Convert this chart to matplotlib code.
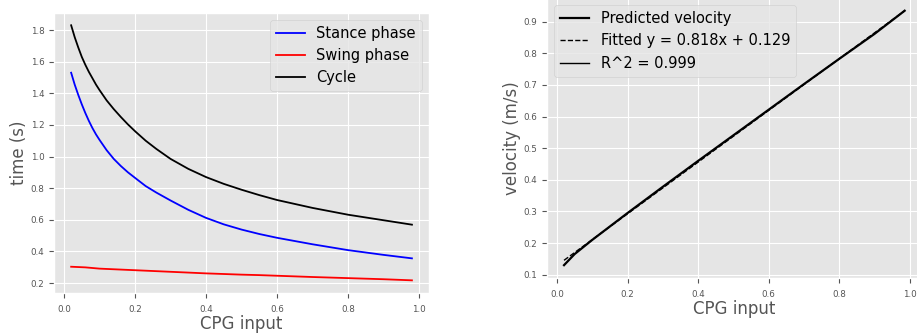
import matplotlib
matplotlib.use("Agg")
import matplotlib.pyplot as plt

plt.style.use("ggplot")
plt.rcParams['font.family'] = ['DejaVu Sans']

# ---- data: left panel (phase durations) ----
cpg_x = [0.02, 0.03, 0.04, 0.05, 0.06, 0.07, 0.08, 0.09, 0.10, 0.12, 0.14, 0.16,
         0.18, 0.20, 0.23, 0.26, 0.30, 0.35, 0.40, 0.45, 0.50, 0.55, 0.60, 0.70,
         0.80, 0.90, 0.98]
stance = [1.53, 1.455, 1.39, 1.33, 1.275, 1.225, 1.18, 1.14, 1.105, 1.04, 0.985, 0.94,
          0.90, 0.865, 0.813, 0.772, 0.722, 0.663, 0.612, 0.571, 0.538, 0.51, 0.486, 0.445,
          0.408, 0.378, 0.356]
swing = [0.303, 0.302, 0.301, 0.300, 0.299, 0.297, 0.295, 0.293, 0.291, 0.289, 0.287, 0.285,
         0.283, 0.281, 0.278, 0.275, 0.271, 0.266, 0.261, 0.257, 0.253, 0.250, 0.246, 0.238,
         0.231, 0.224, 0.217]
cycle = [1.83, 1.755, 1.69, 1.63, 1.58, 1.535, 1.495, 1.455, 1.42, 1.355, 1.30, 1.25,
         1.203, 1.16, 1.10, 1.048, 0.985, 0.922, 0.87, 0.827, 0.79, 0.756, 0.725, 0.675,
         0.632, 0.597, 0.569]

# ---- data: right panel (velocity) ----
vel_x = [0.02, 0.05, 0.1, 0.2, 0.3, 0.4, 0.5, 0.6, 0.7, 0.8, 0.9, 0.985]
vel_y = [0.13, 0.165, 0.21, 0.295, 0.378, 0.46, 0.541, 0.622, 0.703, 0.783, 0.862, 0.935]
fit_slope = 0.818
fit_intercept = 0.129
fit_x = [0.02, 0.985]
r2_text = "R^2 = 0.999"

fig = plt.figure(figsize=(9.17, 3.34), dpi=100)
fig.patch.set_facecolor("white")

TICK = 6.3
LAB = 12
LEG = 10.5

# left axes
ax1 = fig.add_axes([0.059, 0.1225, 0.4088, 0.84])
ax1.plot(cpg_x, stance, color="blue", lw=1.3, label="Stance phase")
ax1.plot(cpg_x, swing, color="red", lw=1.3, label="Swing phase")
ax1.plot(cpg_x, cycle, color="black", lw=1.3, label="Cycle")
ax1.set_xlabel("CPG input", fontsize=LAB, color="#555555", labelpad=1)
ax1.set_ylabel("time (s)", fontsize=LAB, color="#555555", labelpad=2)
ax1.set_yticks([0.2, 0.4, 0.6, 0.8, 1.0, 1.2, 1.4, 1.6, 1.8])
ax1.set_xticks([0.0, 0.2, 0.4, 0.6, 0.8, 1.0])
ax1.tick_params(labelsize=TICK, colors="#555555")
ax1.tick_params(axis="x", pad=5)
ax1.legend(loc="upper right", fontsize=LEG, handlelength=2.0)

# right axes
ax2 = fig.add_axes([0.5965, 0.168, 0.4086, 0.838])
ax2.plot(vel_x, vel_y, color="black", lw=1.6, label="Predicted velocity")
ax2.plot(fit_x, [fit_slope * v + fit_intercept for v in fit_x], color="black",
         lw=1.0, ls="--", label=f"Fitted y = {fit_slope}x + {fit_intercept}")
ax2.plot([], [], color="black", lw=1.0, label=r2_text)
ax2.set_xlabel("CPG input", fontsize=LAB, color="#555555", labelpad=1)
ax2.set_ylabel("velocity (m/s)", fontsize=LAB, color="#555555", labelpad=2)
ax2.set_yticks([0.1, 0.2, 0.3, 0.4, 0.5, 0.6, 0.7, 0.8, 0.9])
ax2.set_xticks([0.0, 0.2, 0.4, 0.6, 0.8, 1.0])
ax2.tick_params(labelsize=TICK, colors="#555555")
ax2.tick_params(axis="x", pad=5)
ax2.legend(loc="upper left", fontsize=LEG, handlelength=2.0)

fig.savefig("out.png", dpi=100, facecolor="white")
